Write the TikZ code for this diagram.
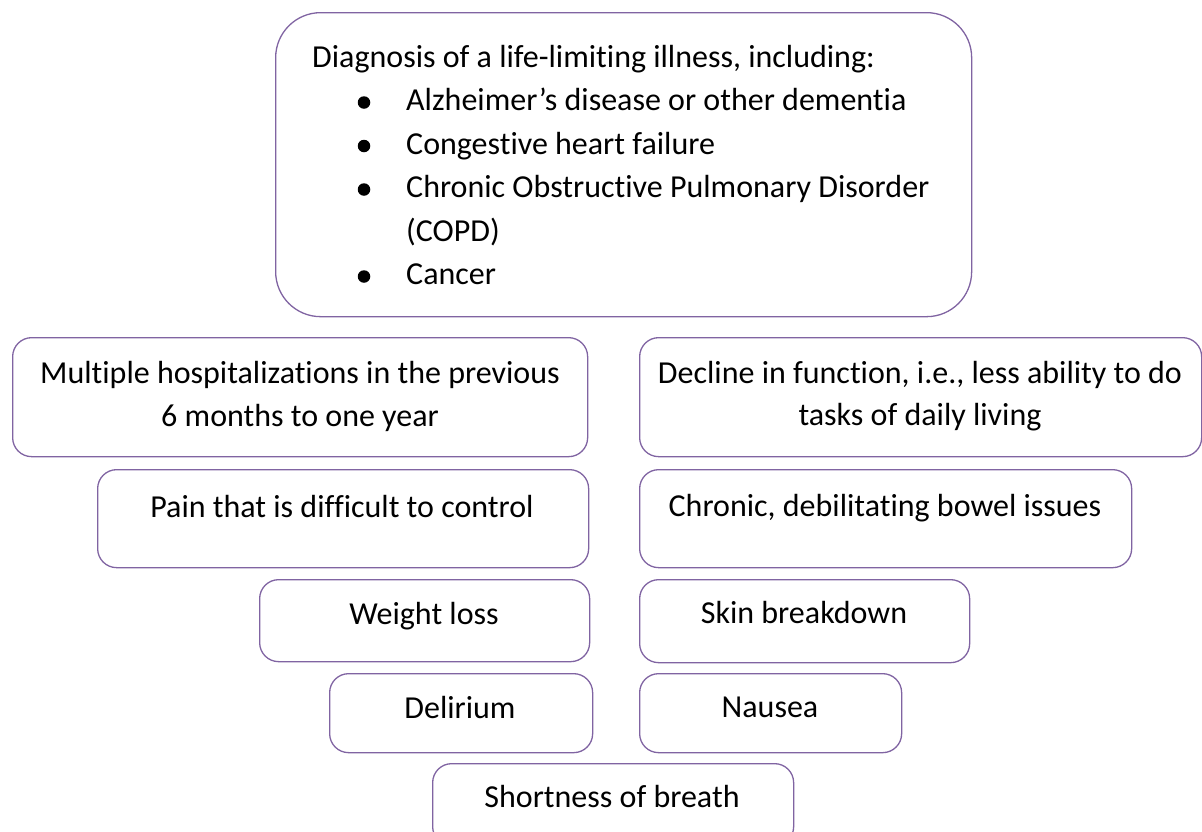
\documentclass[tikz,border=0pt]{standalone}
\usepackage{fontspec}
\setmainfont[Ligatures={NoCommon,NoContextual},Contextuals=NoAlternate,RawFeature={-liga,-clig,-calt}]{Carlito}
\definecolor{cardline}{HTML}{8064A2}

\tikzset{
  card/.style={draw=cardline, line width=1.3pt, rounded corners=19pt,
    anchor=north west, inner sep=0pt},
  words/.style={anchor=base, inner sep=0pt, font=\fontsize{32}{43}\selectfont},
  dot/.style={circle, fill=black, inner sep=0pt, minimum size=12.5pt}
}

\begin{document}
\begin{tikzpicture}[x=1pt,y=-1pt]
  \useasboundingbox (0,0) rectangle (1202,831);
  \clip (0,0) rectangle (1202,831);

  % boxes
  \node[card, rounded corners=45pt, minimum width=696pt, minimum height=304pt] (diag) at (275,12) {};
  \node[card, minimum width=575pt, minimum height=119pt] (hosp) at (12,337) {};
  \node[card, minimum width=562pt, minimum height=119pt] (decline) at (639,337) {};
  \node[card, minimum width=491pt, minimum height=98pt] (pain) at (97,469) {};
  \node[card, minimum width=492pt, minimum height=98pt] (bowel) at (639,469) {};
  \node[card, minimum width=330pt, minimum height=82pt] (weight) at (259,579) {};
  \node[card, minimum width=330pt, minimum height=83pt] (skin) at (639,579) {};
  \node[card, minimum width=263pt, minimum height=79pt] (delir) at (329,673) {};
  \node[card, minimum width=262pt, minimum height=79pt] (nausea) at (639,673) {};
  \node[card, minimum width=361pt, minimum height=82pt] (breath) at (432,763) {};

  % top box text
  \node[words, anchor=base west] (diagA) at (312,67) {Diagnosis of a life-limiting illness, including:};
  \node[words, anchor=base west] (diagB) at (406,110.5) {Alzheimer’s disease or other dementia};
  \node[words, anchor=base west] (diagC) at (406,154) {Congestive heart failure};
  \node[words, anchor=base west] (diagD) at (406,197.5) {Chronic Obstructive Pulmonary Disorder};
  \node[words, anchor=base west] (diagE) at (406,241) {(COPD)};
  \node[words, anchor=base west] (diagF) at (406,284.5) {Cancer};
  \foreach \y/\n in {102.5/1, 146/2, 189.5/3, 276.5/4}
    \node[dot] (bullet\n) at (364,\y) {};

  % other texts
  \node[words] (hospA) at (300,383) {Multiple hospitalizations in the previous};
  \node[words] (hospB) at (300,426) {6 months to one year};
  \node[words] (declineA) at (920,383) {Decline in function, i.e., less ability to do};
  \node[words] (declineB) at (920,425) {tasks of daily living};
  \node[words] (painA) at (342,517) {Pain that is difficult to control};
  \node[words] (bowelA) at (885,516) {Chronic, debilitating bowel issues};
  \node[words] (weightA) at (424,624) {Weight loss};
  \node[words] (skinA) at (804,623) {Skin breakdown};
  \node[words] (delirA) at (460,718) {Delirium};
  \node[words] (nauseaA) at (770,717) {Nausea};
  \node[words] (breathA) at (612,807) {Shortness of breath};
\end{tikzpicture}
\end{document}
